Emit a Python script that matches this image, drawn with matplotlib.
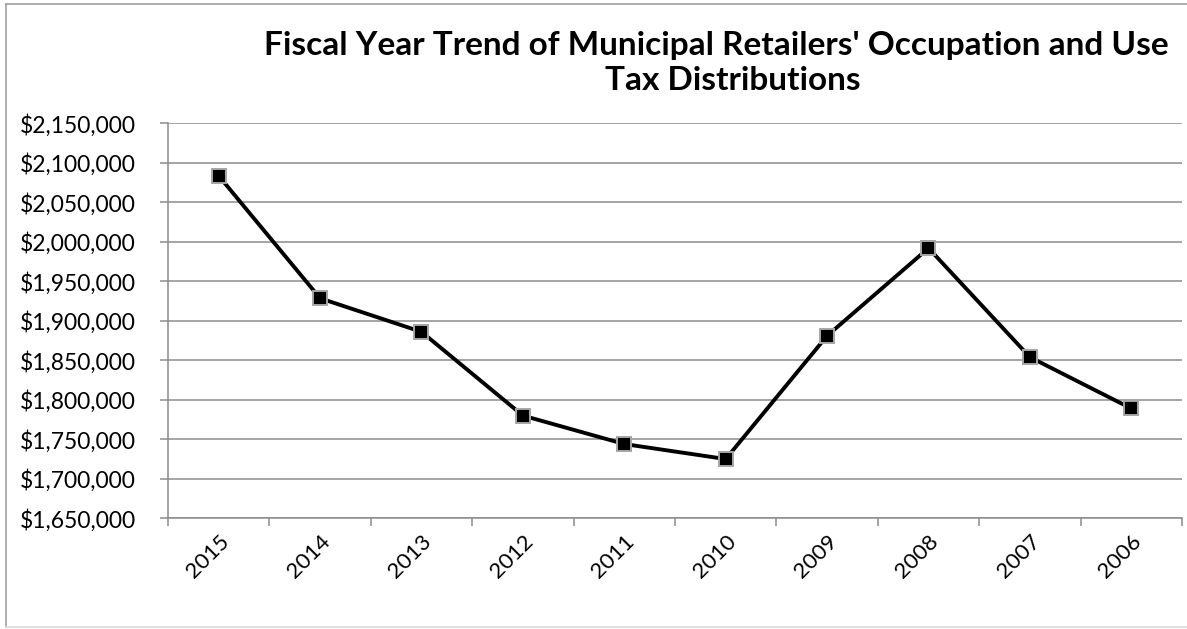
import matplotlib.pyplot as plt
from matplotlib.ticker import FuncFormatter, MultipleLocator
from matplotlib.lines import Line2D

plt.rcParams['font.family'] = ['Lato', 'DejaVu Sans']

# data
years = ['2015', '2014', '2013', '2012', '2011', '2010', '2009', '2008', '2007', '2006']
distributions = [2083500, 1928500, 1886000, 1780000, 1744000, 1725000,
                 1881000, 1992000, 1854000, 1789000]

fig = plt.figure(figsize=(11.87, 6.29), dpi=100)
ax = fig.add_axes([168 / 1187, 1 - 518.3 / 629, (1182 - 168) / 1187, (518.3 - 123.3) / 629])

x = list(range(len(years)))
ax.plot(x, distributions, color='black', lw=2.8, marker='s', markersize=10,
        markerfacecolor='black', markeredgecolor='#a6a6a6', markeredgewidth=1.4,
        zorder=3, clip_on=False)

ax.set_xlim(-0.5, len(years) - 0.5)
ax.set_ylim(1650000, 2150000)
ax.yaxis.set_major_locator(MultipleLocator(50000))
ax.yaxis.set_major_formatter(FuncFormatter(lambda v, p: '${:,.0f}'.format(v)))
ax.grid(axis='y', color='#8c8c8c', lw=1.1)
ax.set_axisbelow(True)

# category ticks sit between categories, labels at centres
ax.set_xticks([i - 0.5 for i in range(len(years) + 1)])
ax.set_xticklabels([])
ax.set_xticks(x, minor=True)
ax.set_xticklabels(years, minor=True, rotation=45, ha='right', va='top',
                   rotation_mode='anchor', fontsize=16)
ax.tick_params(axis='x', which='minor', length=0, pad=9)
ax.tick_params(axis='x', which='major', length=6, color='#8c8c8c', width=1.1)
ax.tick_params(axis='y', length=6, color='#8c8c8c', width=1.1, labelsize=16.5, pad=17)

for s in ['top', 'right']:
    ax.spines[s].set_visible(False)
for s in ['left', 'bottom']:
    ax.spines[s].set_color('#8c8c8c')
    ax.spines[s].set_linewidth(1.1)

fig.text(716 / 1187, 1 - 45 / 629, "Fiscal Year Trend of Municipal Retailers' Occupation and Use",
         ha='center', va='center', fontsize=24, fontweight='bold')
fig.text(733 / 1187, 1 - 80 / 629, "Tax Distributions",
         ha='center', va='center', fontsize=24, fontweight='bold')

# outer chart frame (right side is cut off in the original)
frame_c = '#a0a0a0'
fig.add_artist(Line2D([6 / 1187, 6 / 1187], [1 - 627 / 629, 1 - 4 / 629],
                      transform=fig.transFigure, color=frame_c, lw=1.2))
fig.add_artist(Line2D([6 / 1187, 1], [1 - 4 / 629, 1 - 4 / 629],
                      transform=fig.transFigure, color=frame_c, lw=1.2))
fig.add_artist(Line2D([6 / 1187, 1], [1 - 627 / 629, 1 - 627 / 629],
                      transform=fig.transFigure, color='#d9d9d9', lw=1.2))

fig.savefig('out.png', dpi=100, facecolor='white')
